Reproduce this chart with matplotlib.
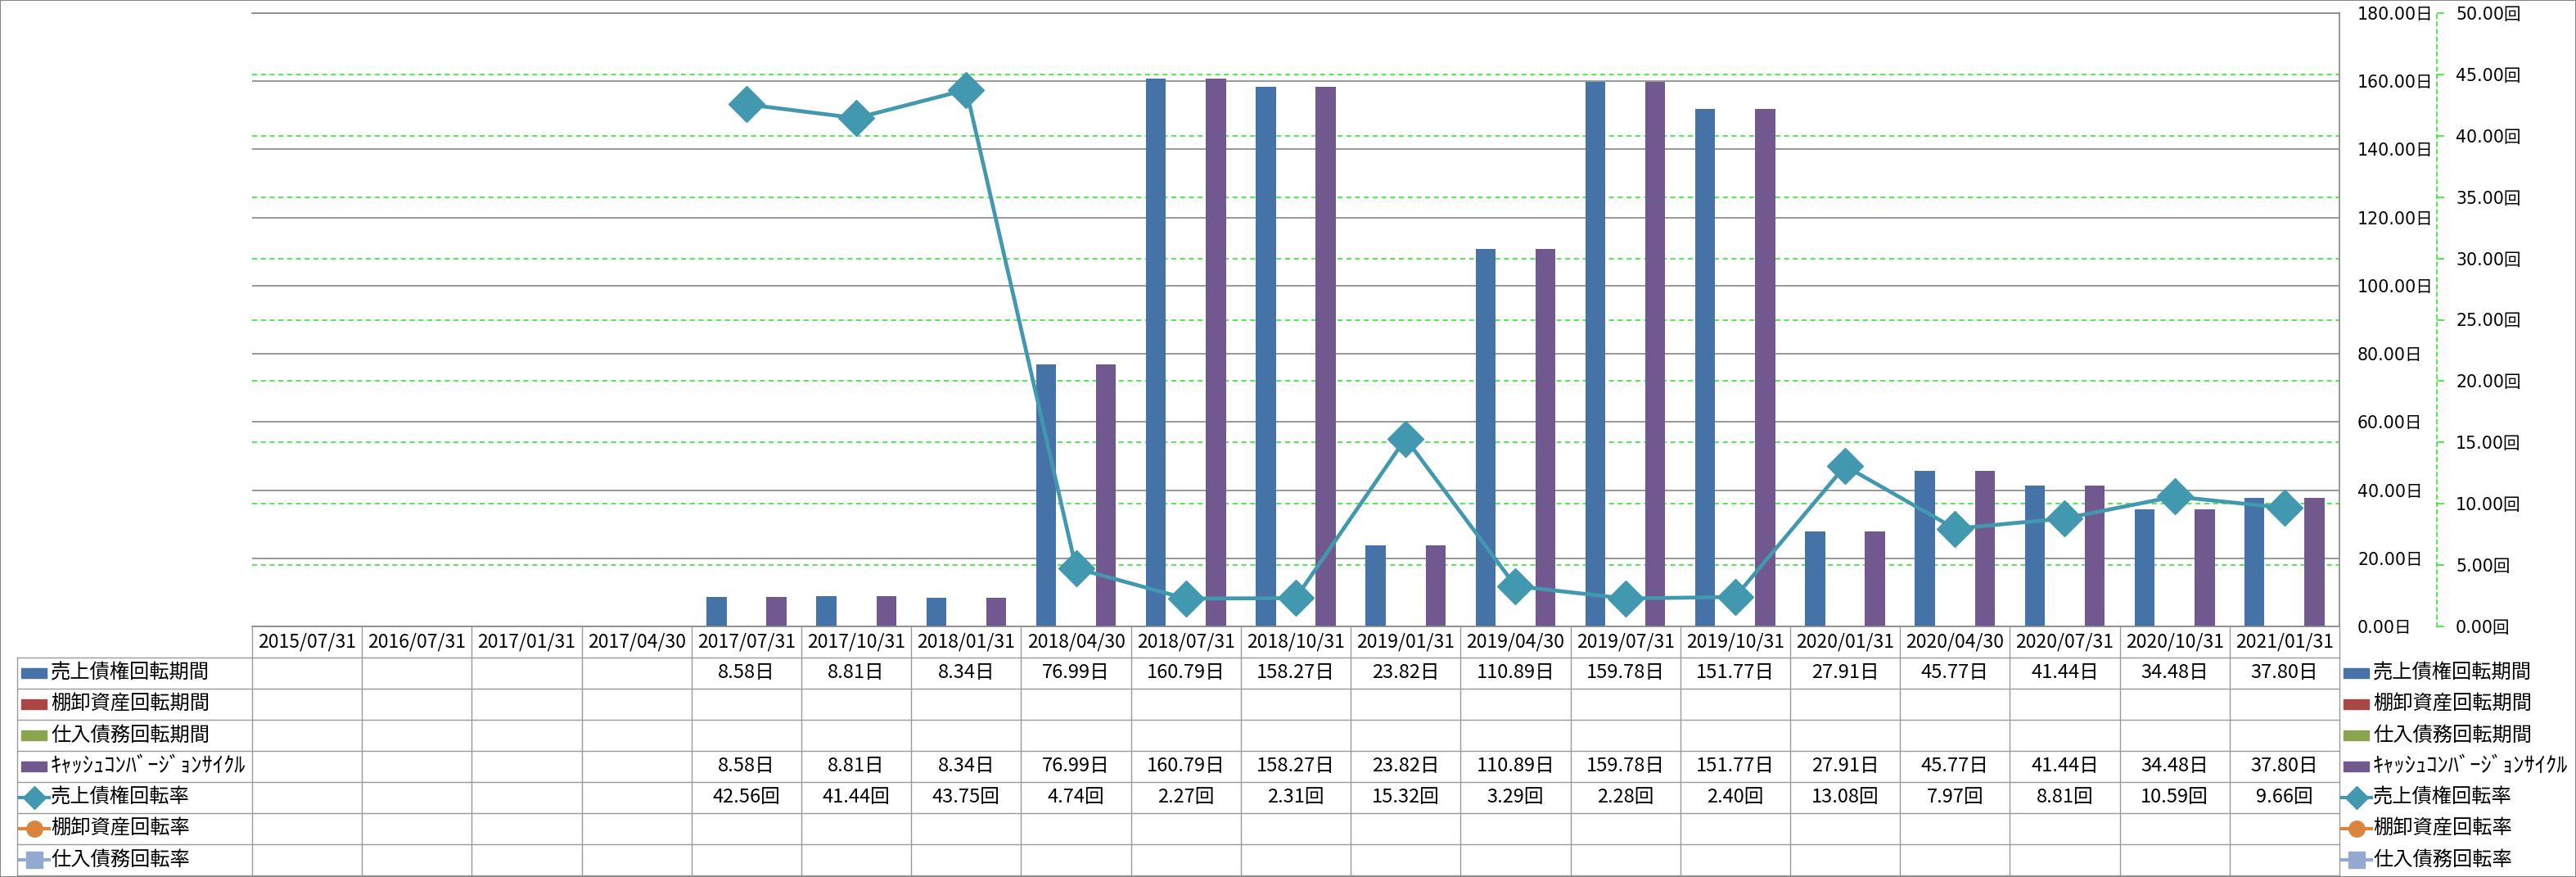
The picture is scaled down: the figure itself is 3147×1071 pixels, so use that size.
import numpy as np
import matplotlib
matplotlib.use('Agg')
import matplotlib.pyplot as plt
import matplotlib.ticker as mticker
from matplotlib.patches import Rectangle
from matplotlib.lines import Line2D

plt.rcParams['font.family'] = ['DejaVu Sans', 'Noto Sans CJK JP']
JP = ['Noto Sans CJK JP', 'DejaVu Sans']

# データ
dates = ['2015/07/31', '2016/07/31', '2017/01/31', '2017/04/30', '2017/07/31',
         '2017/10/31', '2018/01/31', '2018/04/30', '2018/07/31', '2018/10/31',
         '2019/01/31', '2019/04/30', '2019/07/31', '2019/10/31', '2020/01/31',
         '2020/04/30', '2020/07/31', '2020/10/31', '2021/01/31']
ar_days = [None, None, None, None, 8.58, 8.81, 8.34, 76.99, 160.79, 158.27,
           23.82, 110.89, 159.78, 151.77, 27.91, 45.77, 41.44, 34.48, 37.80]
inv_days = [None] * 19
ap_days = [None] * 19
ccc_days = [None, None, None, None, 8.58, 8.81, 8.34, 76.99, 160.79, 158.27,
            23.82, 110.89, 159.78, 151.77, 27.91, 45.77, 41.44, 34.48, 37.80]
ar_turn = [None, None, None, None, 42.56, 41.44, 43.75, 4.74, 2.27, 2.31,
           15.32, 3.29, 2.28, 2.40, 13.08, 7.97, 8.81, 10.59, 9.66]
inv_turn = [None] * 19
ap_turn = [None] * 19

series = [
    ('売上債権回転期間', ar_days, '日', 'bar', '#4572A7', None),
    ('棚卸資産回転期間', inv_days, '日', 'bar', '#AA4643', None),
    ('仕入債務回転期間', ap_days, '日', 'bar', '#89A54E', None),
    ('ｷｬｯｼｭｺﾝﾊﾞｰｼﾞｮﾝｻｲｸﾙ', ccc_days, '日', 'bar', '#71588F', None),
    ('売上債権回転率', ar_turn, '回', 'line', '#4198AF', 'D'),
    ('棚卸資産回転率', inv_turn, '回', 'line', '#DB843D', 'o'),
    ('仕入債務回転率', ap_turn, '回', 'line', '#93A9CF', 's'),
]

W, H = 3147, 1071
L, R, T, B = 308, 2858, 16, 765
ROW = 38
GRAY = '#868686'
TGRAY = '#9A9A9A'
GREEN = '#22E622'

fig = plt.figure(figsize=(W / 100, H / 100), dpi=100)
ax = fig.add_axes([L / W, 1 - B / H, (R - L) / W, (B - T) / H])
ax2 = ax.twinx()

x = np.arange(len(dates))
w = 0.182
offs = (np.arange(4) - 1.5) * w
for i, s in enumerate(series[:4]):
    vals = np.array(s[1], dtype=float)
    ax.bar(x + offs[i], vals, w, color=s[4], zorder=2)

ax.set_xlim(-0.5, len(dates) - 0.5)
ax.set_ylim(0, 180)
ax.set_xticks([])
ax.set_yticks(np.arange(0, 181, 20))
ax.yaxis.tick_right()
ax.yaxis.set_major_formatter(mticker.FuncFormatter(lambda v, p: f'{v:.2f}日'))
ax.tick_params(axis='y', length=0, pad=22 * 0.72, labelsize=14.8)
ax.set_axisbelow(True)
ax.grid(axis='y', color=GRAY, lw=1.2)
ax.spines['left'].set_visible(False)
for sp in ['top', 'right', 'bottom']:
    ax.spines[sp].set_color(GRAY)
    ax.spines[sp].set_linewidth(1.2)

# 右軸(回)の補助線
rt = np.arange(5, 50, 5)
ax.hlines(rt * 180 / 50, -0.5, len(dates) - 0.5, colors=GREEN, lw=1.1,
          linestyles=(0, (4, 3)), zorder=1)

ls = series[4]
ax2.plot(x, np.array(ls[1], dtype=float), color=ls[4], marker=ls[5], ms=22,
         lw=3.4, zorder=3)
ax2.set_ylim(0, 50)
ax2.set_yticks(np.arange(0, 51, 5))
ax2.yaxis.set_major_formatter(mticker.FuncFormatter(lambda v, p: f'{v:.2f}回'))
for sp in ['left', 'top', 'bottom']:
    ax2.spines[sp].set_visible(False)
ax2.spines['right'].set_position(('outward', (2977 - R) * 0.72))
ax2.spines['right'].set_color(GREEN)
ax2.spines['right'].set_linestyle((0, (3, 3)))
ax2.spines['right'].set_linewidth(1.1)
ax2.tick_params(axis='y', color=GREEN, length=9 * 0.72, width=1.1,
                pad=14 * 0.72, labelsize=14.8)

# データテーブル
tax = fig.add_axes([L / W, 1 - (B + 8 * ROW) / H, (R - L) / W, 8 * ROW / H])
tax.set_xlim(-0.5, len(dates) - 0.5)
tax.set_ylim(8, 0)
tax.axis('off')
cw = (R - L) / len(dates)


def px(p):
    return -0.5 + (p - L) / cw


lab_left = px(21)
for r in range(1, 9):
    tax.plot([lab_left, len(dates) - 0.5], [r, r], color=TGRAY, lw=1,
             clip_on=False)
for k in range(len(dates) + 1):
    tax.plot([k - 0.5, k - 0.5], [0, 8], color=TGRAY, lw=1, clip_on=False)
tax.plot([lab_left, lab_left], [1, 8], color=TGRAY, lw=1, clip_on=False)

for i, d in enumerate(dates):
    tax.text(i, 0.5, d, ha='center', va='center', fontsize=16.5, family=JP)


def draw_key(x0, row, s):
    yc = row + 0.5
    if s[3] == 'bar':
        tax.add_patch(Rectangle((px(x0 + 5), yc - 6 / ROW), 31 / cw, 12 / ROW,
                                color=s[4], clip_on=False))
    else:
        tax.add_line(Line2D([px(x0 + 3), px(x0 + 39)], [yc, yc], color=s[4],
                            lw=3, clip_on=False))
        tax.plot([px(x0 + 21)], [yc], marker=s[5], ms=14, color=s[4],
                 clip_on=False)
    # 半角カナは幅が狭いので少し大きく
    fs = 19 if s[0].startswith('ｷ') else 17.5
    tax.text(px(x0 + 41), yc, s[0], ha='left', va='center', fontsize=fs,
             family=JP, clip_on=False)


for r, s in enumerate(series):
    draw_key(21, r + 1, s)
    draw_key(2858, r + 1, s)
    for i, v in enumerate(s[1]):
        if v is not None:
            tax.text(i, r + 1.5, f'{v:.2f}{s[2]}', ha='center', va='center',
                     fontsize=17, family=JP)

fig.patches.append(Rectangle((0, 0), 1, 1, transform=fig.transFigure,
                             fill=False, edgecolor=GRAY, lw=1.5))

fig.savefig('out.png', dpi=100)
